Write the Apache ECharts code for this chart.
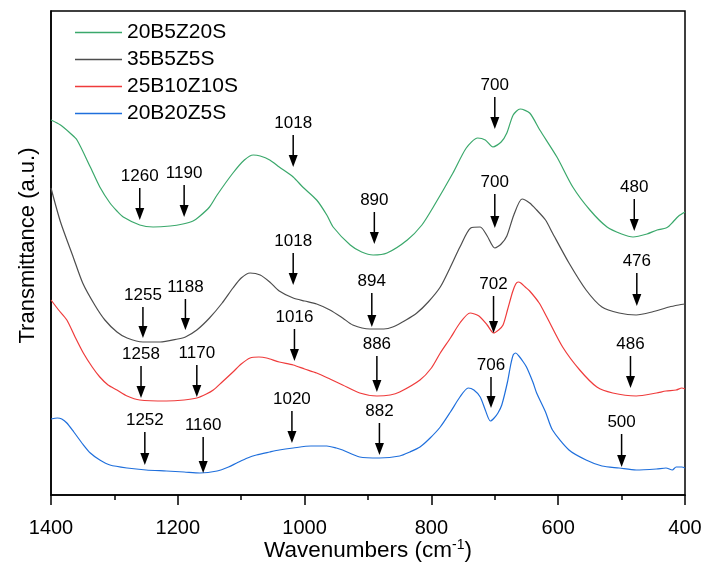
<!DOCTYPE html>
<html>
<head>
<meta charset="utf-8">
<script src="https://cdn.jsdelivr.net/npm/echarts@6/dist/echarts.min.js"></script>
<style>
  html, body { margin: 0; padding: 0; background: #fff; }
  #chart { width: 704px; height: 563px; }
</style>
</head>
<body>
<div id="chart"></div>
<script>
// spectra, wavenumber (cm-1) and transmittance (arbitrary units, offset per sample)
const wnGreen = [1400, 1385, 1370, 1359, 1338, 1323, 1307, 1296, 1286, 1260, 1239, 1212, 1192, 1176, 1165, 1150, 1138, 1113, 1095, 1081, 1070, 1055, 1040, 1018, 1003, 981, 965, 955, 928, 910, 892, 870, 838, 815, 797, 766, 745, 727, 715, 703, 690, 681, 671, 660, 645, 629, 602, 577, 550, 523, 500, 482, 460, 444, 430, 425, 419, 410, 400];
const tGreen = [375, 370, 362, 355, 328, 308, 292, 284, 278, 270, 268, 269, 271, 274, 279, 288, 300, 322, 335, 340, 339, 335, 328, 318, 308, 295, 280, 268, 250, 243, 240, 242, 255, 270, 288, 322, 347, 357, 355, 348, 353, 362, 380, 386, 382, 365, 338, 308, 285, 268, 261, 258, 261, 265, 267, 269, 273, 279, 283];

const wnBlack = [1400, 1385, 1365, 1350, 1331, 1315, 1296, 1280, 1255, 1228, 1200, 1188, 1170, 1150, 1130, 1113, 1100, 1086, 1070, 1055, 1040, 1018, 1000, 981, 960, 940, 924, 897, 875, 861, 840, 823, 805, 786, 770, 755, 738, 723, 712, 700, 690, 681, 670, 657, 645, 634, 620, 609, 583, 556, 531, 504, 477, 452, 425, 410, 400];
const tBlack = [307, 273, 238, 212, 190, 175, 163, 157, 153, 153, 156, 158, 165, 177, 192, 207, 217, 222, 220, 213, 204, 197, 194, 191, 185, 177, 170, 166, 166, 168, 175, 182, 193, 208, 228, 248, 267, 268, 259, 247, 251, 259, 280, 296, 292, 285, 275, 262, 232, 205, 188, 182, 180, 183, 188, 190, 191];

const wnRed = [1400, 1388, 1375, 1362, 1349, 1335, 1323, 1310, 1296, 1280, 1260, 1218, 1190, 1170, 1155, 1144, 1130, 1113, 1100, 1086, 1072, 1060, 1040, 1018, 1000, 981, 960, 940, 913, 886, 865, 850, 818, 800, 786, 770, 755, 739, 725, 712, 702, 694, 687, 680, 672, 667, 663, 659, 652, 645, 630, 618, 593, 566, 539, 514, 477, 445, 430, 414, 405, 400];
const tRed = [195, 185, 175, 158, 142, 128, 118, 110, 105, 99, 95, 94, 95, 97, 101, 105, 113, 123, 131, 137, 138, 137, 133, 130, 126, 122, 116, 110, 102, 99, 100, 103, 115, 127, 142, 157, 172, 182, 179, 170, 162, 165, 170, 185, 203, 211, 213, 212, 208, 204, 192, 178, 148, 125, 108, 102, 99, 102, 104, 105, 107, 106];

const wnBlue = [1400, 1390, 1383, 1375, 1364, 1350, 1338, 1323, 1307, 1280, 1250, 1218, 1190, 1165, 1138, 1120, 1107, 1090, 1076, 1055, 1040, 1018, 990, 965, 950, 940, 913, 882, 850, 834, 818, 802, 786, 770, 755, 742, 733, 723, 715, 707, 701, 695, 689, 680, 675, 671, 667, 662, 655, 650, 640, 634, 620, 609, 583, 556, 531, 504, 477, 445, 430, 420, 414, 405, 400];
const tBlue = [76, 77, 76, 72, 63, 51, 42, 35, 30, 27, 25, 24, 23, 22, 24, 28, 32, 37, 40, 43, 45, 47, 49, 49, 47, 45, 38, 37, 39, 43, 48, 57, 68, 83, 98, 107, 105, 98, 85, 74, 77, 82, 90, 113, 130, 140, 142, 139, 133, 128, 113, 102, 83, 65, 45, 35, 29, 27, 25, 26, 27, 25, 28, 28, 27];

// peak marks: wavenumber, arrow top, arrow tip (same units as the spectra)
const marksGreen = [[1260, 307, 275], [1190, 310, 278], [1018, 360, 328], [890, 283, 251], [700, 398, 366], [480, 296, 264]];
const marksBlack = [[1255, 188, 157], [1188, 196, 165], [1018, 242, 210], [894, 202, 168], [700, 301, 267], [476, 222, 189]];
const marksRed = [[1258, 129, 97], [1170, 130, 98], [1016, 166, 134], [886, 139, 103], [702, 199, 162], [486, 139, 107]];
const marksBlue = [[1252, 63, 30], [1160, 58, 22], [1020, 84, 52], [882, 72, 40], [706, 118, 87], [500, 61, 28]];

const xTicks = [400, 1400, 200];
const names = ['20B5Z20S', '35B5Z5S', '25B10Z10S', '20B20Z5S'];
const colors = ['#3aa86b', '#4d4d4d', '#ef3b3b', '#1f6fdc'];

const FONT = '"Liberation Sans", Arial, sans-serif';

function zip(a, b) {
  return a.map((v, i) => [v, b[i]]);
}

const spectra = [zip(wnGreen, tGreen), zip(wnBlack, tBlack), zip(wnRed, tRed), zip(wnBlue, tBlue)];
const marks = [].concat(marksGreen, marksBlack, marksRed, marksBlue);

const chart = echarts.init(document.getElementById('chart'));

const series = spectra.map((d, i) => ({
  name: names[i],
  type: 'line',
  data: d,
  symbol: 'none',
  smooth: 0.25,
  color: colors[i],
  lineStyle: { width: 1.2, color: colors[i] },
  z: 2
}));

series.push({
  name: 'marks',
  type: 'custom',
  data: marks,
  z: 5,
  silent: true,
  renderItem: function (params, api) {
    const wn = api.value(0);
    const top = api.coord([wn, api.value(1)]);
    const tip = api.coord([wn, api.value(2)]);
    return {
      type: 'group',
      children: [
        {
          type: 'line',
          shape: { x1: top[0], y1: top[1], x2: tip[0], y2: tip[1] - 10 },
          style: { stroke: '#000', lineWidth: 1.5 }
        },
        {
          type: 'polygon',
          shape: { points: [[tip[0] - 4.5, tip[1] - 12], [tip[0] + 4.5, tip[1] - 12], [tip[0], tip[1]]] },
          style: { fill: '#000' }
        },
        {
          type: 'text',
          style: {
            text: String(wn),
            x: top[0],
            y: top[1] - 3,
            align: 'center',
            verticalAlign: 'bottom',
            font: '17px ' + FONT,
            fill: '#000'
          }
        }
      ]
    };
  }
});

const option = {
  animation: false,
  backgroundColor: '#fff',
  grid: {
    left: 51,
    right: 19,
    top: 11,
    bottom: 68,
    outerBoundsMode: 'none',
    show: true,
    borderColor: '#000',
    borderWidth: 1.5,
    backgroundColor: 'transparent'
  },
  legend: {
    data: names,
    orient: 'vertical',
    left: 75,
    top: 22,
    padding: 0,
    icon: 'rect',
    itemWidth: 47,
    itemHeight: 1.6,
    itemGap: 6,
    textStyle: { fontSize: 21, lineHeight: 20, color: '#000', fontFamily: FONT }
  },
  xAxis: {
    type: 'value',
    inverse: true,
    min: xTicks[0],
    max: xTicks[1],
    interval: xTicks[2],
    name: 'Wavenumbers (cm{sup|-1})',
    nameLocation: 'middle',
    nameGap: 43,
    nameMoveOverlap: false,
    nameTextStyle: {
      fontSize: 22.5,
      color: '#000',
      fontFamily: FONT,
      rich: {
        sup: { fontSize: 14, color: '#000', fontFamily: FONT, verticalAlign: 'top', padding: [0, 0, 11, 0] }
      }
    },
    axisLine: { show: true, onZero: false, lineStyle: { color: '#000', width: 1.5 } },
    axisTick: { show: true, inside: false, length: 10, lineStyle: { color: '#000', width: 1.5 } },
    minorTick: { show: true, splitNumber: 2, length: 5, lineStyle: { color: '#000', width: 1.5 } },
    axisLabel: {
      fontSize: 20,
      color: '#000',
      fontFamily: FONT,
      margin: 23,
      formatter: v => String(v)
    },
    splitLine: { show: false }
  },
  yAxis: {
    type: 'value',
    min: 0,
    max: 484,
    name: 'Transmittance (a.u.)',
    nameLocation: 'middle',
    nameGap: 12,
    nameMoveOverlap: false,
    nameTextStyle: { fontSize: 22, color: '#000', fontFamily: FONT, padding: [0, 0, 0, 15] },
    axisLine: { show: true, onZero: false, lineStyle: { color: '#000', width: 1.5 } },
    axisTick: { show: false },
    axisLabel: { show: false },
    splitLine: { show: false }
  },
  series: series
};

chart.setOption(option);
</script>
</body>
</html>
